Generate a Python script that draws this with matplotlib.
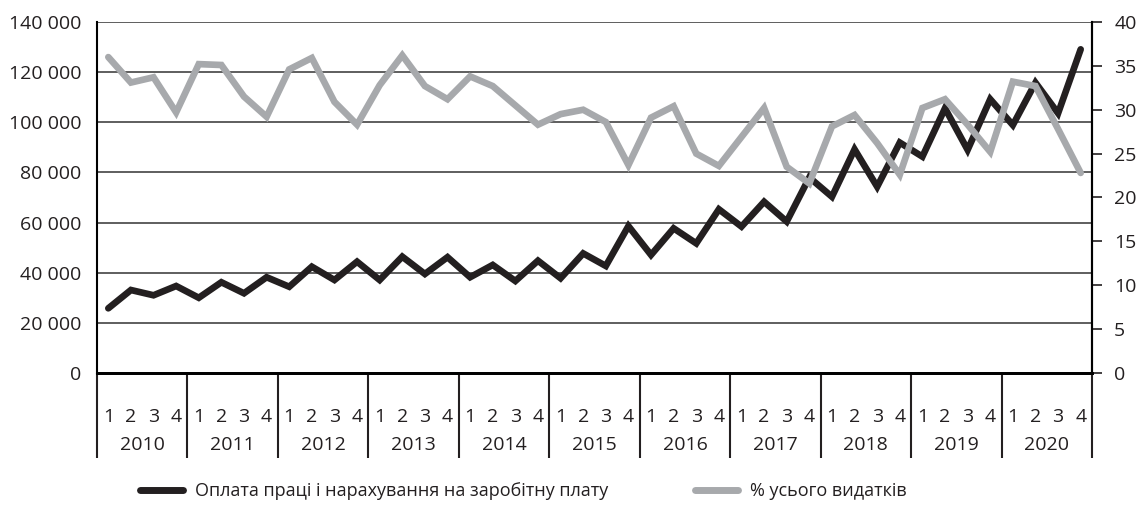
import numpy as np
import matplotlib
matplotlib.use("Agg")
from matplotlib import pyplot as plt
from matplotlib.ticker import FuncFormatter

plt.rcParams['font.family'] = ['Open Sans', 'DejaVu Sans']

years = ['2010', '2011', '2012', '2013', '2014', '2015',
         '2016', '2017', '2018', '2019', '2020']
quarters = ['1', '2', '3', '4']

# wages and accruals, by quarter (left axis)
wages = [25800, 33100, 31000, 34700,
         30000, 36200, 31800, 38200,
         34400, 42400, 37100, 44400,
         37100, 46400, 39500, 46200,
         38200, 43100, 36700, 44800,
         37800, 47700, 42700, 58600,
         47100, 57700, 51700, 65300,
         58400, 68300, 60400, 78000,
         70300, 89200, 74300, 91900,
         86300, 105600, 89000, 109200,
         98900, 115800, 103600, 129100]

# % of total expenditure (right axis)
share = [36.0, 33.1, 33.7, 29.7,
         35.2, 35.1, 31.5, 29.2,
         34.6, 35.9, 30.9, 28.3,
         32.8, 36.2, 32.7, 31.2,
         33.8, 32.7, 30.5, 28.3,
         29.5, 30.0, 28.6, 23.7,
         29.1, 30.4, 25.0, 23.6,
         26.9, 30.2, 23.5, 21.6,
         28.1, 29.4, 26.2, 22.6,
         30.2, 31.2, 28.3, 25.2,
         33.2, 32.7, 27.8, 22.8]

label_wages = 'Оплата праці і нарахування на заробітну плату'
label_share = '% усього видатків'

black = '#231f20'
grey = '#a7a9ac'
fs = 14

fig = plt.figure(figsize=(11.38, 5.11), dpi=100)
ax = fig.add_axes([97 / 1138, 1 - 373 / 511, (1092 - 97) / 1138, (373 - 22) / 511])
ax2 = ax.twinx()

x = np.arange(len(wages))
ax.plot(x, wages, color=black, lw=4.8, solid_capstyle='round', solid_joinstyle='miter')
ax2.plot(x, share, color=grey, lw=4.8, solid_capstyle='round', solid_joinstyle='miter')

ax.set_xlim(-0.5, len(wages) - 0.5)
ax.set_ylim(0, 140000)
ax.set_yticks(np.arange(0, 140001, 20000))
ax.yaxis.set_major_formatter(FuncFormatter(lambda v, p: f'{int(v):,}'.replace(',', ' ')))
ax.grid(axis='y', color='#333333', lw=1.1)
ax.tick_params(axis='y', length=0, pad=11, labelsize=fs, colors=black)

ax2.set_ylim(0, 40)
ax2.set_yticks(np.arange(0, 41, 5))
ax2.tick_params(axis='y', length=7, width=1.2, pad=9, labelsize=fs, colors=black)

for a in (ax, ax2):
    a.spines['top'].set_visible(False)
    a.spines['left'].set_linewidth(1.5)
    a.spines['right'].set_linewidth(1.5)
    a.spines['bottom'].set_linewidth(2)
ax2.spines['left'].set_visible(False)

# quarter labels on major ticks, year dividers as long minor ticks
ax.set_xticks(x)
ax.set_xticklabels(quarters * len(years))
ax.tick_params(axis='x', which='major', length=0, pad=25, labelsize=fs, colors=black)
ax.set_xticks(np.arange(-0.5, len(wages), 4), minor=True)
ax.tick_params(axis='x', which='minor', length=61, width=1.5, color=black)

for i, yr in enumerate(years):
    ax.annotate(yr, xy=(i * 4 + 1.5, 0), xycoords=('data', 'axes fraction'),
                xytext=(0, -52), textcoords='offset points',
                ha='center', va='center', fontsize=fs, color=black)

h1, = ax.plot([], [], color=black, lw=5, solid_capstyle='round')
h2, = ax.plot([], [], color=grey, lw=5, solid_capstyle='round')
fig.legend([h1, h2], [label_wages, label_share], loc='center left',
           bbox_to_anchor=(140 / 1138, 1 - 491 / 511), ncol=2, frameon=False,
           fontsize=13, handlelength=2.4, handletextpad=0.65, columnspacing=4.8,
           labelcolor=black, borderaxespad=0, borderpad=0)

fig.savefig('out.png', dpi=100)
